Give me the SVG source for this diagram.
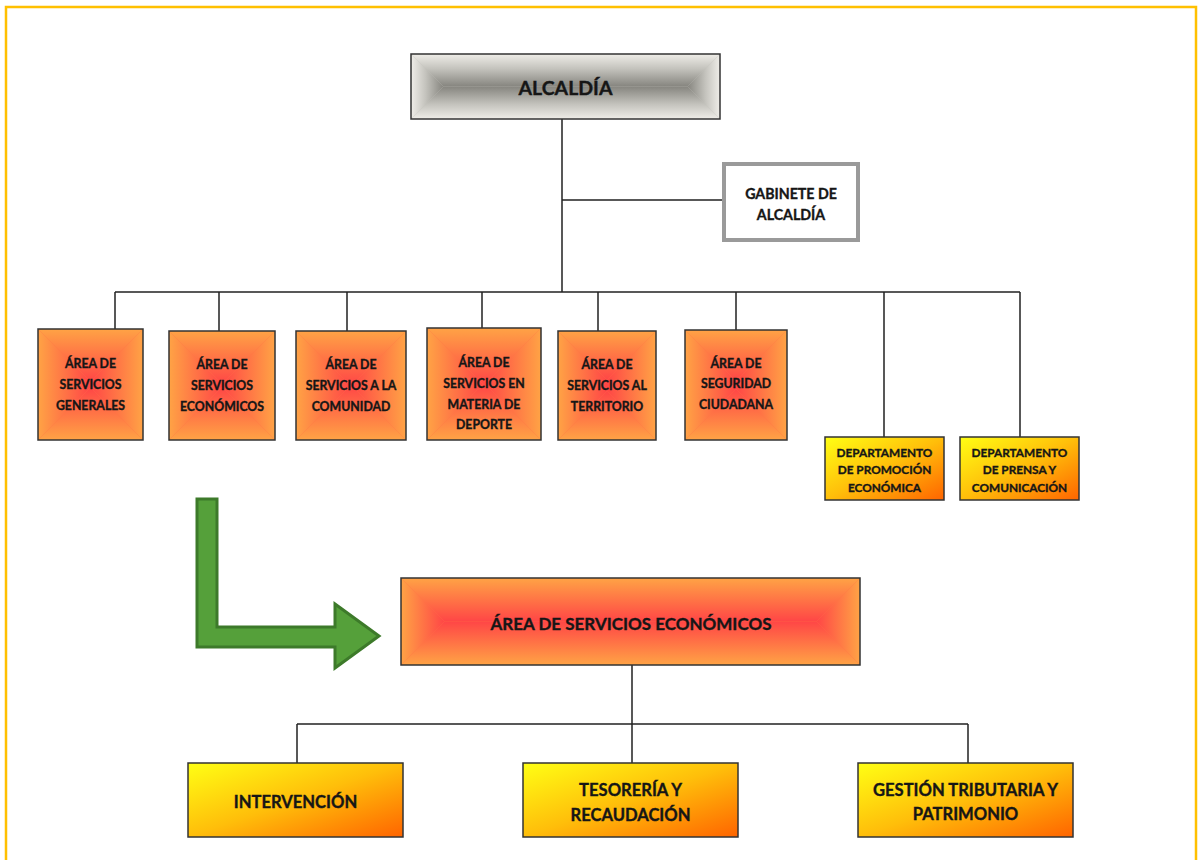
<svg xmlns="http://www.w3.org/2000/svg" width="1200" height="860" viewBox="0 0 1200 860">
  <defs>
    <!-- gray bevel ramps (edge -> centre) -->
    <linearGradient id="gT" x1="0" y1="0" x2="0" y2="1"><stop offset="0" stop-color="#efede8"/><stop offset="0.45" stop-color="#c4c3bd"/><stop offset="1" stop-color="#86857f"/></linearGradient>
    <linearGradient id="gB" x1="0" y1="1" x2="0" y2="0"><stop offset="0" stop-color="#efede8"/><stop offset="0.45" stop-color="#c4c3bd"/><stop offset="1" stop-color="#86857f"/></linearGradient>
    <linearGradient id="gL" x1="0" y1="0" x2="1" y2="0"><stop offset="0" stop-color="#efede8"/><stop offset="0.45" stop-color="#c4c3bd"/><stop offset="1" stop-color="#86857f"/></linearGradient>
    <linearGradient id="gR" x1="1" y1="0" x2="0" y2="0"><stop offset="0" stop-color="#efede8"/><stop offset="0.45" stop-color="#c4c3bd"/><stop offset="1" stop-color="#86857f"/></linearGradient>
    <!-- orange/red bevel ramps (edge -> centre) -->
    <linearGradient id="oT" x1="0" y1="0" x2="0" y2="1"><stop offset="0" stop-color="#ffa345"/><stop offset="1" stop-color="#ff4646"/></linearGradient>
    <linearGradient id="oB" x1="0" y1="1" x2="0" y2="0"><stop offset="0" stop-color="#ffa345"/><stop offset="1" stop-color="#ff4646"/></linearGradient>
    <linearGradient id="oL" x1="0" y1="0" x2="1" y2="0"><stop offset="0" stop-color="#ffa345"/><stop offset="1" stop-color="#ff4646"/></linearGradient>
    <linearGradient id="oR" x1="1" y1="0" x2="0" y2="0"><stop offset="0" stop-color="#ffa345"/><stop offset="1" stop-color="#ff4646"/></linearGradient>
    <!-- diagonal yellow to orange -->
    <linearGradient id="yo" x1="0" y1="0" x2="1" y2="1"><stop offset="0" stop-color="#ffff14"/><stop offset="0.5" stop-color="#ffbe0a"/><stop offset="1" stop-color="#ff6400"/></linearGradient>
  </defs>
  <style>
    .frame{fill:none;stroke:#ffc000;stroke-width:2.5}
    .edge{stroke:#222;stroke-width:1.5;fill:none}
    .box{fill:none;stroke:#333;stroke-width:1.5}
    .t{font-family:Lato,"Liberation Sans",sans-serif;font-weight:bold;fill:#161616;stroke:#161616;stroke-width:0.35;text-anchor:middle;dominant-baseline:central}
    .s13{font-size:12.3px}
    .s12{font-size:11.8px}
    .s14{font-size:14.2px}
    .s17{font-size:16.6px}
    .s19{font-size:17px}
    .s21{font-size:19.5px}
    .yo{fill:url(#yo)}
  </style>

  <rect class="frame" x="6" y="7" width="1190" height="870"/>

  <!-- connectors -->
  <g id="connectors">
    <path class="edge" d="M562 119 V292 M562 200 H723"/>
    <path class="edge" d="M115 292 H1020 M115 292 V329 M219 292 V331 M347 292 V331 M482 292 V328 M598 292 V331 M736 292 V330 M884 292 V437 M1020 292 V437"/>
    <path class="edge" d="M632 665 V724 M297 724 H968 M297 724 V763 M632 724 V763 M968 724 V763"/>
  </g>

  <!-- top level -->
  <g id="alcaldia" transform="translate(411,54)">
    <rect width="309" height="65" fill="#c4c3bd"/>
    <polygon points="0,0 309,0 276.5,32.5 32.5,32.5" fill="url(#gT)"/>
    <polygon points="0,65 309,65 276.5,32.5 32.5,32.5" fill="url(#gB)"/>
    <polygon points="0,0 32.5,32.5 0,65" fill="url(#gL)"/>
    <polygon points="309,0 276.5,32.5 309,65" fill="url(#gR)"/>
    <rect class="box" width="309" height="65" stroke-width="2"/>
    <text class="t s21" x="154.5" y="33">ALCALDÍA</text>
  </g>

  <g id="gabinete">
    <rect x="724" y="164" width="134" height="76" fill="#fff" stroke="#9a9a9a" stroke-width="4"/>
    <text class="t s14" x="791" y="193">GABINETE DE</text>
    <text class="t s14" x="791" y="214">ALCALDÍA</text>
  </g>

  <!-- areas -->
  <g id="area-generales" transform="translate(38,329)">
    <rect width="105" height="111" fill="#ff7545"/>
    <polygon points="0,0 105,0 52.5,52.5" fill="url(#oT)"/>
    <polygon points="0,111 105,111 52.5,58.5" fill="url(#oB)"/>
    <polygon points="0,0 52.5,52.5 52.5,58.5 0,111" fill="url(#oL)"/>
    <polygon points="105,0 52.5,52.5 52.5,58.5 105,111" fill="url(#oR)"/>
    <rect class="box" width="105" height="111"/>
    <text class="t s13" x="52.5" y="34">ÁREA DE</text>
    <text class="t s13" x="52.5" y="55">SERVICIOS</text>
    <text class="t s13" x="52.5" y="76">GENERALES</text>
  </g>

  <g id="area-economicos" transform="translate(169,331)">
    <rect width="106" height="109" fill="#ff7545"/>
    <polygon points="0,0 106,0 53,53" fill="url(#oT)"/>
    <polygon points="0,109 106,109 53,56" fill="url(#oB)"/>
    <polygon points="0,0 53,53 53,56 0,109" fill="url(#oL)"/>
    <polygon points="106,0 53,53 53,56 106,109" fill="url(#oR)"/>
    <rect class="box" width="106" height="109"/>
    <text class="t s13" x="53" y="33">ÁREA DE</text>
    <text class="t s13" x="53" y="54">SERVICIOS</text>
    <text class="t s13" x="53" y="75">ECONÓMICOS</text>
  </g>

  <g id="area-comunidad" transform="translate(296,331)">
    <rect width="110" height="109" fill="#ff7545"/>
    <polygon points="0,0 110,0 55.5,54.5 54.5,54.5" fill="url(#oT)"/>
    <polygon points="0,109 110,109 55.5,54.5 54.5,54.5" fill="url(#oB)"/>
    <polygon points="0,0 54.5,54.5 0,109" fill="url(#oL)"/>
    <polygon points="110,0 55.5,54.5 110,109" fill="url(#oR)"/>
    <rect class="box" width="110" height="109"/>
    <text class="t s13" x="55" y="33">ÁREA DE</text>
    <text class="t s13" x="55" y="54">SERVICIOS A LA</text>
    <text class="t s13" x="55" y="75">COMUNIDAD</text>
  </g>

  <g id="area-deporte" transform="translate(427,328)">
    <rect width="114" height="112" fill="#ff7545"/>
    <polygon points="0,0 114,0 58,56 56,56" fill="url(#oT)"/>
    <polygon points="0,112 114,112 58,56 56,56" fill="url(#oB)"/>
    <polygon points="0,0 56,56 0,112" fill="url(#oL)"/>
    <polygon points="114,0 58,56 114,112" fill="url(#oR)"/>
    <rect class="box" width="114" height="112"/>
    <text class="t s13" x="57" y="34">ÁREA DE</text>
    <text class="t s13" x="57" y="55">SERVICIOS EN</text>
    <text class="t s13" x="57" y="76">MATERIA DE</text>
    <text class="t s13" x="57" y="96">DEPORTE</text>
  </g>

  <g id="area-territorio" transform="translate(558,331)">
    <rect width="98" height="109" fill="#ff7545"/>
    <polygon points="0,0 98,0 49,49" fill="url(#oT)"/>
    <polygon points="0,109 98,109 49,60" fill="url(#oB)"/>
    <polygon points="0,0 49,49 49,60 0,109" fill="url(#oL)"/>
    <polygon points="98,0 49,49 49,60 98,109" fill="url(#oR)"/>
    <rect class="box" width="98" height="109"/>
    <text class="t s13" x="49" y="33">ÁREA DE</text>
    <text class="t s13" x="49" y="54">SERVICIOS AL</text>
    <text class="t s13" x="49" y="75">TERRITORIO</text>
  </g>

  <g id="area-seguridad" transform="translate(685,330)">
    <rect width="102" height="110" fill="#ff7545"/>
    <polygon points="0,0 102,0 51,51" fill="url(#oT)"/>
    <polygon points="0,110 102,110 51,59" fill="url(#oB)"/>
    <polygon points="0,0 51,51 51,59 0,110" fill="url(#oL)"/>
    <polygon points="102,0 51,51 51,59 102,110" fill="url(#oR)"/>
    <rect class="box" width="102" height="110"/>
    <text class="t s13" x="51" y="33">ÁREA DE</text>
    <text class="t s13" x="51" y="53">SEGURIDAD</text>
    <text class="t s13" x="51" y="74">CIUDADANA</text>
  </g>

  <!-- departments -->
  <g id="dep-promocion">
    <rect class="yo" x="825" y="437" width="119" height="63"/>
    <rect class="box" x="825" y="437" width="119" height="63"/>
    <text class="t s12" x="884.5" y="452">DEPARTAMENTO</text>
    <text class="t s12" x="884.5" y="469.5">DE PROMOCIÓN</text>
    <text class="t s12" x="884.5" y="487">ECONÓMICA</text>
  </g>

  <g id="dep-prensa">
    <rect class="yo" x="960" y="437" width="119" height="63"/>
    <rect class="box" x="960" y="437" width="119" height="63"/>
    <text class="t s12" x="1019.5" y="452">DEPARTAMENTO</text>
    <text class="t s12" x="1019.5" y="469.5">DE PRENSA Y</text>
    <text class="t s12" x="1019.5" y="487">COMUNICACIÓN</text>
  </g>

  <!-- bent arrow pointing to the detailed area -->
  <g id="arrow">
    <polygon points="197,499 217,499 217,627 335,627 335,604 379,636 335,668 335,647 197,647" fill="#55a03a" stroke="#3d7a2a" stroke-width="3" stroke-linejoin="miter"/>
  </g>

  <!-- economic services detail -->
  <g id="area-economicos-detalle" transform="translate(401,578)">
    <rect width="459" height="87" fill="#ff7545"/>
    <polygon points="0,0 459,0 415.5,43.5 43.5,43.5" fill="url(#oT)"/>
    <polygon points="0,87 459,87 415.5,43.5 43.5,43.5" fill="url(#oB)"/>
    <polygon points="0,0 43.5,43.5 0,87" fill="url(#oL)"/>
    <polygon points="459,0 415.5,43.5 459,87" fill="url(#oR)"/>
    <rect class="box" width="459" height="87"/>
    <text class="t s19" x="230" y="45">ÁREA DE SERVICIOS ECONÓMICOS</text>
  </g>

  <g id="intervencion">
    <rect class="yo" x="188" y="763" width="215" height="74"/>
    <rect class="box" x="188" y="763" width="215" height="74"/>
    <text class="t s17" x="295.5" y="802">INTERVENCIÓN</text>
  </g>

  <g id="tesoreria">
    <rect class="yo" x="523" y="763" width="215" height="74"/>
    <rect class="box" x="523" y="763" width="215" height="74"/>
    <text class="t s17" x="630.5" y="790">TESORERÍA Y</text>
    <text class="t s17" x="630.5" y="815">RECAUDACIÓN</text>
  </g>

  <g id="gestion">
    <rect class="yo" x="858" y="763" width="215" height="74"/>
    <rect class="box" x="858" y="763" width="215" height="74"/>
    <text class="t s17" x="965.5" y="790">GESTIÓN TRIBUTARIA Y</text>
    <text class="t s17" x="965.5" y="814">PATRIMONIO</text>
  </g>
</svg>
